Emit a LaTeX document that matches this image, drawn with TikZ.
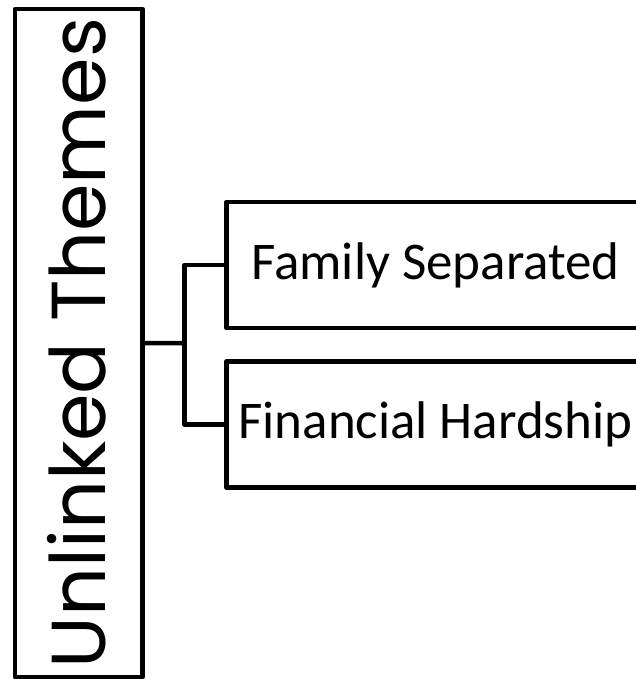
\documentclass[tikz,border=0pt]{standalone}
\usepackage{fontspec}
\setmainfont{Carlito}
\newfontfamily\geofont{Poppins}
\usetikzlibrary{positioning,calc}

\begin{document}
\begin{tikzpicture}[
  x=1bp, y=-1bp,
  every node/.style={font=\fontsize{53bp}{62bp}\selectfont},
  line width=4.5bp, line join=round,
  box/.style={rectangle, draw, minimum width=418bp, minimum height=126bp, inner sep=0pt, align=center},
  title/.style={rectangle, draw, rotate=90, minimum width=668bp, minimum height=127.5bp, inner sep=0pt, text depth=5bp, font=\geofont\fontsize{76.5bp}{88bp}\selectfont},
]
\useasboundingbox (0,0) rectangle (636,679);

% Left column
\node[title] (themes) at (78.75,343) {Unlinked Themes};

% Theme boxes
\node[box] (family) at (435.5,265) {Family Separated};
\node[box, below=29bp of family] (hardship) {Financial Hardship};

% Connectors
\coordinate (split) at ($(themes.south)!0.5!(family.west |- themes.south)$);
\draw (themes.south) -- (split);
\draw (family.west) -| (split) |- (hardship.west);

\end{tikzpicture}
\end{document}
